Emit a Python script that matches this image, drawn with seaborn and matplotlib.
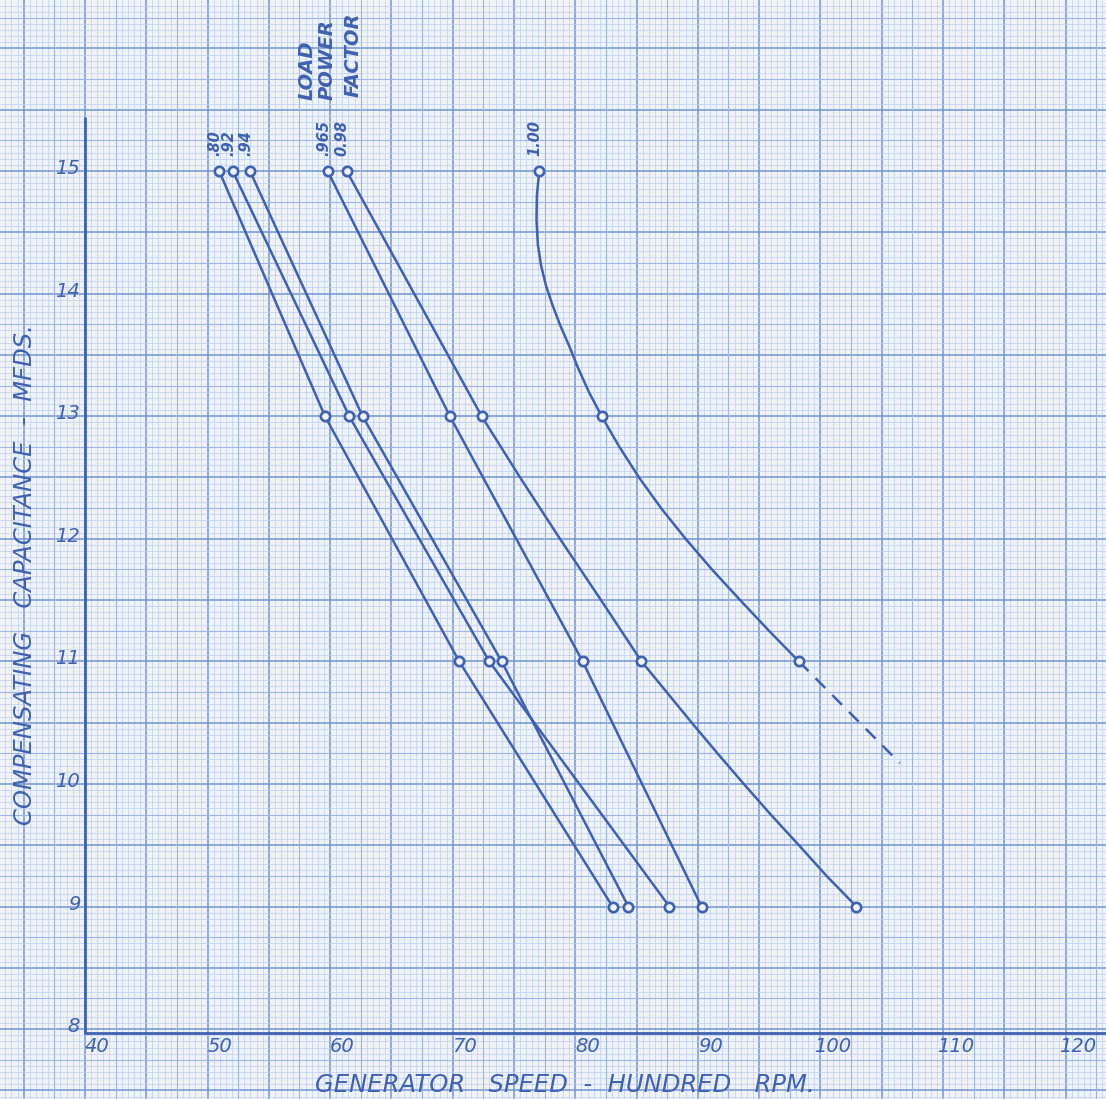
import numpy as np
import pandas as pd
import matplotlib.pyplot as plt
import seaborn as sns
from matplotlib.ticker import MultipleLocator

# ------------------------------------------------------------
# Values (generator speed in hundred rpm)
# ------------------------------------------------------------
cap_levels = [15, 13, 11, 9]

pf_080 = [50.95, 59.58, 70.53, 83.04]
pf_092 = [52.05, 61.56, 72.98, 87.68]
pf_094 = [53.46, 62.65, 73.99, 84.33]
pf_096 = [59.8, 69.77, 80.6, 90.3]
pf_098 = [61.35, 72.36, 85.4, 102.94]
pf_100 = [77.06, 82.15, 98.24]
cap_100 = [15, 13, 11]

# hand drawn curve shapes traced from the sheet
curve_098_x = [61.35, 72.36, 75.5, 78.75, 82.1, 85.4, 87.45, 89.5, 91.6,
               93.75, 95.95, 98.25, 100.5, 102.94]
curve_098_y = [15, 13, 12.5, 12.0, 11.5, 11.0, 10.75, 10.5, 10.25,
               10.0, 9.75, 9.5, 9.25, 9.0]

curve_100_x = [77.06, 76.87, 76.84, 76.95, 77.21, 77.60, 78.13, 78.78, 79.56,
               80.2, 81.1, 82.15, 83.6, 85.2, 87.0, 89.0, 91.15, 93.45, 95.8, 98.24]
curve_100_y = [15.0, 14.80, 14.60, 14.40, 14.23, 14.07, 13.91, 13.74, 13.56,
               13.4, 13.2, 13.0, 12.75, 12.5, 12.25, 12.0, 11.75, 11.5, 11.25, 11.0]

dash_100_x = [98.24, 106.48]
dash_100_y = [11.0, 10.17]

pf_labels = [".80", ".92", ".94", ".965", "0.98", "1.00"]
x_ticks = [40, 50, 60, 70, 80, 90, 100, 110, 120]
y_ticks = [8, 9, 10, 11, 12, 13, 14, 15]

INK = "#3f61b0"
PAPER = "#eff3f8"

sns.set_style("white")
plt.rcParams["font.family"] = ["DejaVu Sans"]

fig = plt.figure(figsize=(11.06, 10.99), dpi=100)
ax = fig.add_axes([0, 0, 1, 1])
ax.set_facecolor(PAPER)
fig.patch.set_facecolor(PAPER)

# the sheet extends past the plotted axes
ax.set_xlim(33.07, 123.3)
ax.set_ylim(7.43, 16.395)

# graph paper
ax.xaxis.set_major_locator(MultipleLocator(5))
ax.xaxis.set_minor_locator(MultipleLocator(0.5))
ax.yaxis.set_major_locator(MultipleLocator(0.5))
ax.yaxis.set_minor_locator(MultipleLocator(0.05))
ax.grid(which="minor", color="#bcd0ee", lw=0.5)
ax.grid(which="major", color="#7494d0", lw=1.1)
for v in np.arange(37.5, 124, 5):
    ax.axvline(v, color="#9fb6e1", lw=0.8, zorder=0.6)
for v in np.arange(7.25, 16.5, 0.5):
    ax.axhline(v, color="#9fb6e1", lw=0.8, zorder=0.6)
ax.set_axisbelow(True)
ax.tick_params(length=0, labelbottom=False, labelleft=False)
for s in ax.spines.values():
    s.set_visible(False)

# axes drawn on the sheet
ax.plot([40, 40], [7.97, 15.43], color=INK, lw=2)
ax.plot([40, 123.3], [7.97, 7.97], color=INK, lw=2)

# curves
for xs in [pf_080, pf_092, pf_094, pf_096]:
    sns.lineplot(x=xs, y=cap_levels, sort=False, color=INK, lw=1.8, ax=ax,
                 estimator=None)
sns.lineplot(x=curve_098_x, y=curve_098_y, sort=False, color=INK, lw=1.8,
             ax=ax, estimator=None)
sns.lineplot(x=curve_100_x, y=curve_100_y, sort=False, color=INK, lw=1.8,
             ax=ax, estimator=None)
ax.plot(dash_100_x, dash_100_y, color=INK, lw=1.8, dashes=(5.5, 4))

# plotted points
pts = pd.DataFrame({
    "speed": pf_080 + pf_092 + pf_094 + pf_096 + pf_098 + pf_100,
    "cap": cap_levels * 5 + cap_100,
})
sns.scatterplot(data=pts, x="speed", y="cap", s=45, facecolor=PAPER,
                edgecolor=INK, linewidth=1.9, ax=ax, zorder=5)

# series labels above the top points
tops = [pf_080[0], pf_092[0], pf_094[0], pf_096[0], pf_098[0], pf_100[0]]
for lab, xv in zip(pf_labels, tops):
    ax.text(xv - 0.35, 15.12, lab, rotation=90, ha="center", va="bottom",
            color=INK, fontsize=10.5, style="italic", fontweight="bold")

for lab, xv, yv in [("LOAD", 58.1, 15.58), ("POWER", 59.75, 15.58),
                    ("FACTOR", 61.9, 15.6)]:
    ax.text(xv, yv, lab, rotation=90, ha="center", va="bottom", color=INK,
            fontsize=14, style="italic", fontweight="bold")

# tick labels
for t in x_ticks:
    ax.text(t + 1.0, 7.86, str(t), ha="center", va="center", color=INK,
            fontsize=14, style="italic")
for t in y_ticks:
    ax.text(39.6, t + 0.02, str(t), ha="right", va="center", color=INK,
            fontsize=14, style="italic")

ax.text(79.15, 7.545, "GENERATOR   SPEED  -  HUNDRED   RPM.", ha="center",
        va="center", color=INK, fontsize=17.5, style="italic")
ax.text(35.1, 11.71, "COMPENSATING   CAPACITANCE  -  MFDS.", rotation=90,
        ha="center", va="center", color=INK, fontsize=17.5, style="italic")

fig.savefig("out.png", dpi=100, facecolor=PAPER)
